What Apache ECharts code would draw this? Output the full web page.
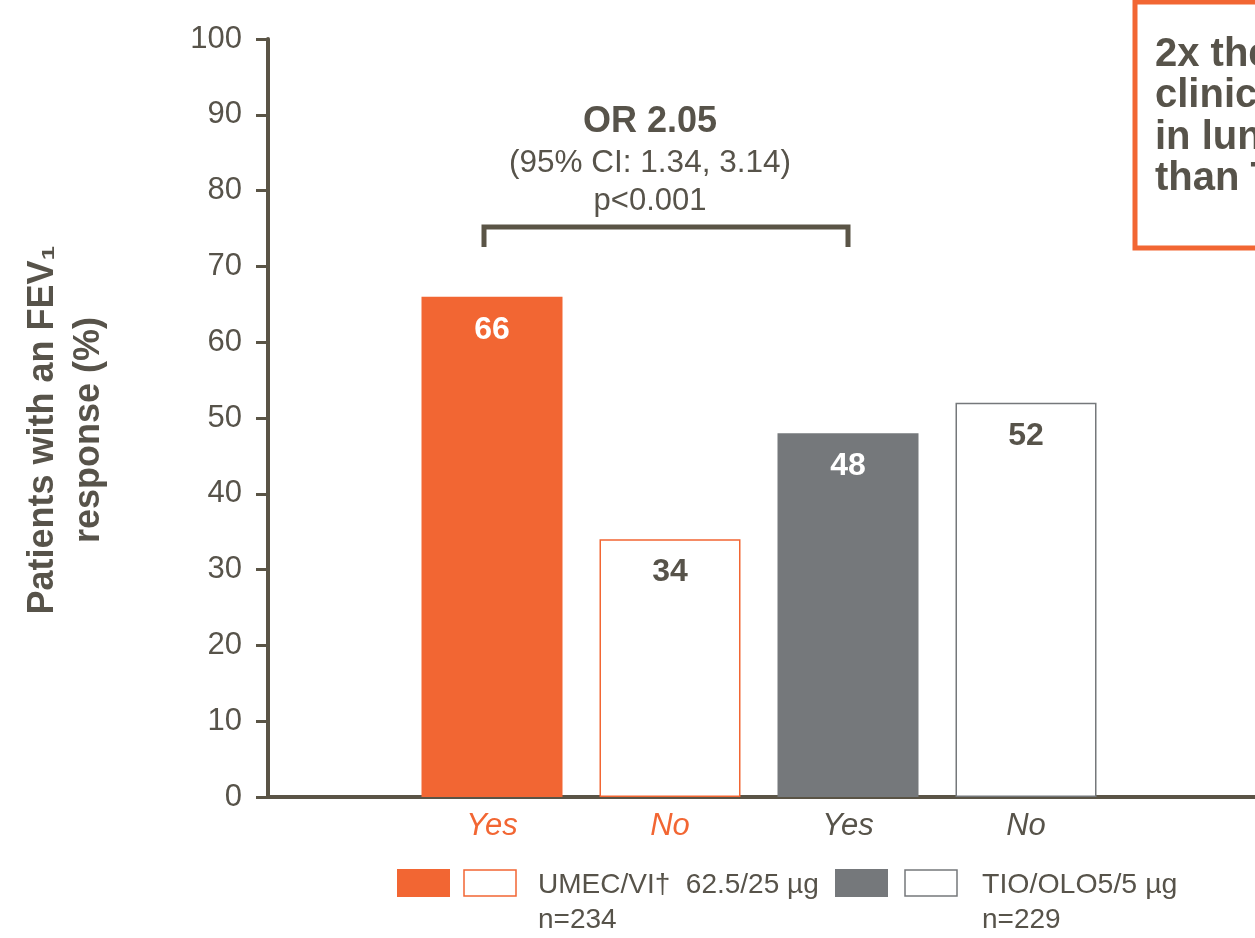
<!DOCTYPE html>
<html>
<head>
<meta charset="utf-8">
<title>FEV1 response</title>
<script src="https://cdn.jsdelivr.net/npm/echarts@6/dist/echarts.min.js"></script>
<style>
  html, body { margin: 0; padding: 0; background: #ffffff; }
  #chart { width: 1255px; height: 938px; }
</style>
</head>
<body>
<div id="chart"></div>
<script>
// Responder categories and percentages (UMEC/VI yes/no, TIO/OLO yes/no)
const categories = ['Yes', 'No', 'Yes', 'No'];
const responderPct = [66, 34, 48, 52];
const treatmentOfBar = [0, 0, 1, 1];
const isResponder = [true, false, true, false];
const treatments = ['UMEC/VI\u2020  62.5/25 \u00b5g', 'TIO/OLO5/5 \u00b5g'];
const sampleSizes = ['n=234', 'n=229'];
const yTicks = [0, 10, 20, 30, 40, 50, 60, 70, 80, 90, 100];
const yTitleLines = ['Patients with an FEV\u2081', 'response (%)'];
const oddsRatio = 'OR 2.05';
const confInterval = '(95% CI: 1.34, 3.14)';
const pValue = 'p<0.001';
const calloutLines = ['2x the odds of a', 'clinically relevant', 'in lung function', 'than TIO/OLO'];

const ORANGE = '#F26633';
const GREY = '#75787B';
const INK = '#57534A';
const AXIS = '#5A5446';
const FONT = '"Liberation Sans", Arial, Helvetica, sans-serif';
const treatmentColor = [ORANGE, GREY];
const labelColor = [ORANGE, INK];

const chart = echarts.init(document.getElementById('chart'), null, { renderer: 'canvas' });

const barData = responderPct.map((v, i) => {
  const c = treatmentColor[treatmentOfBar[i]];
  const filled = isResponder[i];
  return {
    value: v,
    itemStyle: filled
      ? { color: c, borderWidth: 0 }
      : { color: '#ffffff', borderColor: c, borderWidth: 1.5 },
    label: { color: filled ? '#ffffff' : INK }
  };
});

const option = {
  animation: false,
  backgroundColor: '#ffffff',
  textStyle: { fontFamily: FONT },
  grid: [
    // frame carrying the value axis and the long baseline
    { left: 268, right: 0, top: 39, bottom: 141, containLabel: false },
    // plotting band for the four bars
    { left: 403, width: 712, top: 39, bottom: 141, containLabel: false }
  ],
  xAxis: [
    {
      gridIndex: 0, type: 'value', min: 0, max: 1,
      axisLine: { show: true, onZero: false, lineStyle: { color: AXIS, width: 4 } },
      axisTick: { show: false }, axisLabel: { show: false }, splitLine: { show: false }
    },
    {
      gridIndex: 1, type: 'category', data: categories,
      axisLine: { show: false }, axisTick: { show: false },
      axisLabel: {
        margin: 14,
        fontSize: 31,
        fontStyle: 'italic',
        fontFamily: FONT,
        formatter: (val, idx) => '{t' + treatmentOfBar[idx] + '|' + val + '}',
        rich: {
          t0: { color: labelColor[0], fontSize: 31, fontStyle: 'italic', fontFamily: FONT },
          t1: { color: labelColor[1], fontSize: 31, fontStyle: 'italic', fontFamily: FONT }
        }
      }
    }
  ],
  yAxis: [
    {
      gridIndex: 0, type: 'value', min: 0, max: 100, interval: 10,
      axisLine: { show: true, lineStyle: { color: AXIS, width: 4 } },
      axisTick: { show: true, inside: false, length: 12, lineStyle: { color: AXIS, width: 3 } },
      axisLabel: { color: INK, fontSize: 31, margin: 26, fontFamily: FONT, customValues: yTicks },
      splitLine: { show: false }
    },
    {
      gridIndex: 1, type: 'value', min: 0, max: 100, interval: 10, show: false
    }
  ],
  series: [
    {
      type: 'bar',
      xAxisIndex: 1, yAxisIndex: 1,
      data: barData,
      barWidth: 141,
      label: {
        show: true,
        position: 'insideTop',
        distance: 17,
        fontSize: 32,
        fontWeight: 'bold',
        fontFamily: FONT
      }
    }
  ],
  graphic: [
    // value-axis title, reading bottom to top
    {
      type: 'text', x: 66, y: 430, rotation: Math.PI / 2,
      style: {
        text: yTitleLines.join('\n'), fill: INK, font: 'bold 36px ' + FONT,
        lineHeight: 46, textAlign: 'center', textVerticalAlign: 'middle'
      }
    },
    // significance bracket and statistics
    {
      type: 'polyline', silent: true,
      shape: { points: [[484, 247], [484, 227], [848, 227], [848, 247]] },
      style: { stroke: AXIS, lineWidth: 5, fill: null, lineJoin: 'miter' }
    },
    {
      type: 'text', x: 650, y: 122,
      style: { text: oddsRatio, fill: INK, font: 'bold 36px ' + FONT, textAlign: 'center', textVerticalAlign: 'middle' }
    },
    {
      type: 'text', x: 650, y: 163,
      style: { text: confInterval, fill: INK, font: '31.5px ' + FONT, textAlign: 'center', textVerticalAlign: 'middle' }
    },
    {
      type: 'text', x: 650, y: 201,
      style: { text: pValue, fill: INK, font: '31px ' + FONT, textAlign: 'center', textVerticalAlign: 'middle' }
    },
    // callout box at the top right
    {
      type: 'rect', silent: true,
      shape: { x: 1135, y: 2, width: 200, height: 246 },
      style: { fill: '#ffffff', stroke: ORANGE, lineWidth: 5 }
    },
    {
      type: 'text', x: 1155, y: 34,
      style: { text: calloutLines.join('\n'), fill: INK, font: 'bold 40px ' + FONT, lineHeight: 41.5, textAlign: 'left', textVerticalAlign: 'top' }
    },
    // legend: UMEC/VI
    { type: 'rect', shape: { x: 397, y: 869, width: 53, height: 28 }, style: { fill: treatmentColor[0] } },
    { type: 'rect', shape: { x: 464, y: 870, width: 52, height: 26 }, style: { fill: '#ffffff', stroke: treatmentColor[0], lineWidth: 1.5 } },
    {
      type: 'text', x: 538, y: 885,
      style: { text: treatments[0], fill: INK, font: '28px ' + FONT, textAlign: 'left', textVerticalAlign: 'middle' }
    },
    {
      type: 'text', x: 538, y: 920,
      style: { text: sampleSizes[0], fill: INK, font: '28px ' + FONT, textAlign: 'left', textVerticalAlign: 'middle' }
    },
    // legend: TIO/OLO
    { type: 'rect', shape: { x: 835, y: 869, width: 53, height: 28 }, style: { fill: treatmentColor[1] } },
    { type: 'rect', shape: { x: 905, y: 870, width: 52, height: 26 }, style: { fill: '#ffffff', stroke: treatmentColor[1], lineWidth: 1.5 } },
    {
      type: 'text', x: 982, y: 885,
      style: { text: treatments[1], fill: INK, font: '28.5px ' + FONT, textAlign: 'left', textVerticalAlign: 'middle' }
    },
    {
      type: 'text', x: 982, y: 920,
      style: { text: sampleSizes[1], fill: INK, font: '28px ' + FONT, textAlign: 'left', textVerticalAlign: 'middle' }
    }
  ]
};

chart.setOption(option);
</script>
</body>
</html>
